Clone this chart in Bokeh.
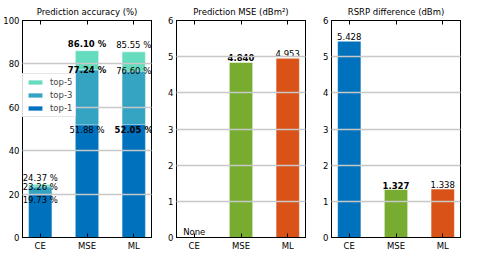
from bokeh.plotting import figure
from bokeh.layouts import row
from bokeh.models import (Range1d, LinearAxis, FixedTicker, ColumnDataSource,
                          Legend, LegendItem, Grid)
from bokeh.core.properties import value
from bokeh.embed import file_html
from bokeh.resources import INLINE

# ---------------- data ----------------
methods = ["CE", "MSE", "ML"]
top1 = [19.73, 51.88, 52.05]
top3 = [23.26, 77.24, 76.60]
top5 = [24.37, 86.10, 85.55]
best_top1 = [False, False, True]
best_top3 = [False, True, False]
best_top5 = [False, True, False]

mse_vals = [None, 4.840, 4.953]
best_mse = [False, True, False]

rsrp_vals = [5.428, 1.327, 1.338]
best_rsrp = [False, True, False]

acc_ticks = [0, 20, 40, 60, 80, 100]
unit_ticks = [0, 1, 2, 3, 4, 5, 6]

titles = ["Prediction accuracy (%)", "Prediction MSE (dBm\u00b2)", "RSRP difference (dBm)"]

# ---------------- style ----------------
FONT = "DejaVu Sans"
FS = "8.5px"
C_TOP1 = "#0072BD"
C_TOP3 = "#35A3C2"
C_TOP5 = "#66DCBE"
METHOD_COLORS = ["#0072BD", "#77AC30", "#D95319"]
GRID = "#c8c8c8"


def make_fig(title, ymax, yticks, mbl, mbr):
    p = figure(frame_width=129, frame_height=217,
               x_range=Range1d(-0.38, 2.38), y_range=Range1d(0, ymax),
               output_backend="svg", toolbar_location=None,
               x_axis_type=None, y_axis_type=None,
               min_border_left=mbl, min_border_right=mbr,
               min_border_top=0, min_border_bottom=0)
    p.outline_line_color = "black"
    p.outline_line_width = 1
    p.title.text = title
    p.title.align = "center"
    p.title.text_font = FONT
    p.title.text_font_size = FS
    p.title.text_font_style = "normal"
    p.title.text_color = "black"
    p.title.standoff = 7
    xt = FixedTicker(ticks=list(range(len(methods))))
    yt = FixedTicker(ticks=yticks)
    for loc, ticker, labels in [("below", xt, True), ("above", xt, False),
                                ("left", yt, True), ("right", yt, False)]:
        ax = LinearAxis(ticker=ticker)
        ax.major_tick_in = 4
        ax.major_tick_out = 0
        ax.minor_tick_in = 0
        ax.minor_tick_out = 0
        ax.axis_line_color = "black"
        ax.major_tick_line_color = "black"
        ax.major_label_text_font = FONT
        ax.major_label_text_font_size = FS
        ax.major_label_text_color = "black"
        ax.major_label_standoff = 3
        if loc in ("below", "above"):
            ax.major_label_overrides = {i: m for i, m in enumerate(methods)}
        if not labels:
            ax.major_label_overrides = {t: "" for t in ticker.ticks}
            ax.major_label_standoff = 0
        p.add_layout(ax, loc)
    g = Grid(dimension=1, ticker=yt, grid_line_color=GRID, grid_line_width=1.5,
             level="guide")
    p.add_layout(g, "center")
    return p


def add_labels(p, xs, ys, labels, bold, baseline, yoff=0):
    src = ColumnDataSource(dict(x=xs, y=ys, label=labels,
                                style=["bold" if b else "normal" for b in bold]))
    p.text(x="x", y="y", text="label", source=src, text_font_style="style",
           text_align="center", text_baseline=baseline, y_offset=yoff,
           text_font=value(FONT), text_font_size=value(FS), text_color="black")


xs = list(range(len(methods)))

# ---------- panel 1 ----------
p1 = make_fig(titles[0], 100, acc_ticks, 20, 5)
r5 = p1.vbar(x=xs, top=top5, width=0.5, fill_color=C_TOP5, line_color="white", line_alpha=0.5)
r3 = p1.vbar(x=xs, top=top3, width=0.5, fill_color=C_TOP3, line_color="white", line_alpha=0.5)
r1 = p1.vbar(x=xs, top=top1, width=0.5, fill_color=C_TOP1, line_color="white", line_alpha=0.5)
add_labels(p1, xs, top5, [f"{v:.2f} %" for v in top5], best_top5, "bottom", -2)
add_labels(p1, xs, top3, [f"{v:.2f} %" for v in top3], best_top3, "middle")
add_labels(p1, xs, top1, [f"{v:.2f} %" for v in top1], best_top1, "top")
legend = Legend(items=[LegendItem(label="top-5", renderers=[r5]),
                       LegendItem(label="top-3", renderers=[r3]),
                       LegendItem(label="top-1", renderers=[r1])],
                location=(0, 120))
legend.label_text_font = FONT
legend.label_text_font_size = FS
legend.label_height = 10
legend.glyph_height = 6
legend.glyph_width = 18
legend.spacing = 3
legend.padding = 3
legend.margin = 0
legend.label_standoff = 6
legend.border_line_color = "#cccccc"
legend.background_fill_alpha = 0.9
p1.add_layout(legend, "center")

# ---------- panel 2 ----------
p2 = make_fig(titles[1], 6, unit_ticks, 20, 6)
mx = [x for x, v in zip(xs, mse_vals) if v is not None]
mv = [v for v in mse_vals if v is not None]
mc = [c for c, v in zip(METHOD_COLORS, mse_vals) if v is not None]
p2.vbar(x=mx, top=mv, width=0.5, fill_color=mc, line_color="white", line_alpha=0.5)
add_labels(p2, xs, [0 if v is None else v for v in mse_vals],
           ["None" if v is None else f"{v:.3f}" for v in mse_vals], best_mse, "bottom", -1)

# ---------- panel 3 ----------
p3 = make_fig(titles[2], 6, unit_ticks, 20, 6)
p3.vbar(x=xs, top=rsrp_vals, width=0.5, fill_color=METHOD_COLORS, line_color="white", line_alpha=0.5)
add_labels(p3, xs, rsrp_vals, [f"{v:.3f}" for v in rsrp_vals], best_rsrp, "bottom", -1)

layout = row(p1, p2, p3, spacing=0, margin=(1, 0, 0, 0))
open("out.html", "w").write(file_html(layout, INLINE))
